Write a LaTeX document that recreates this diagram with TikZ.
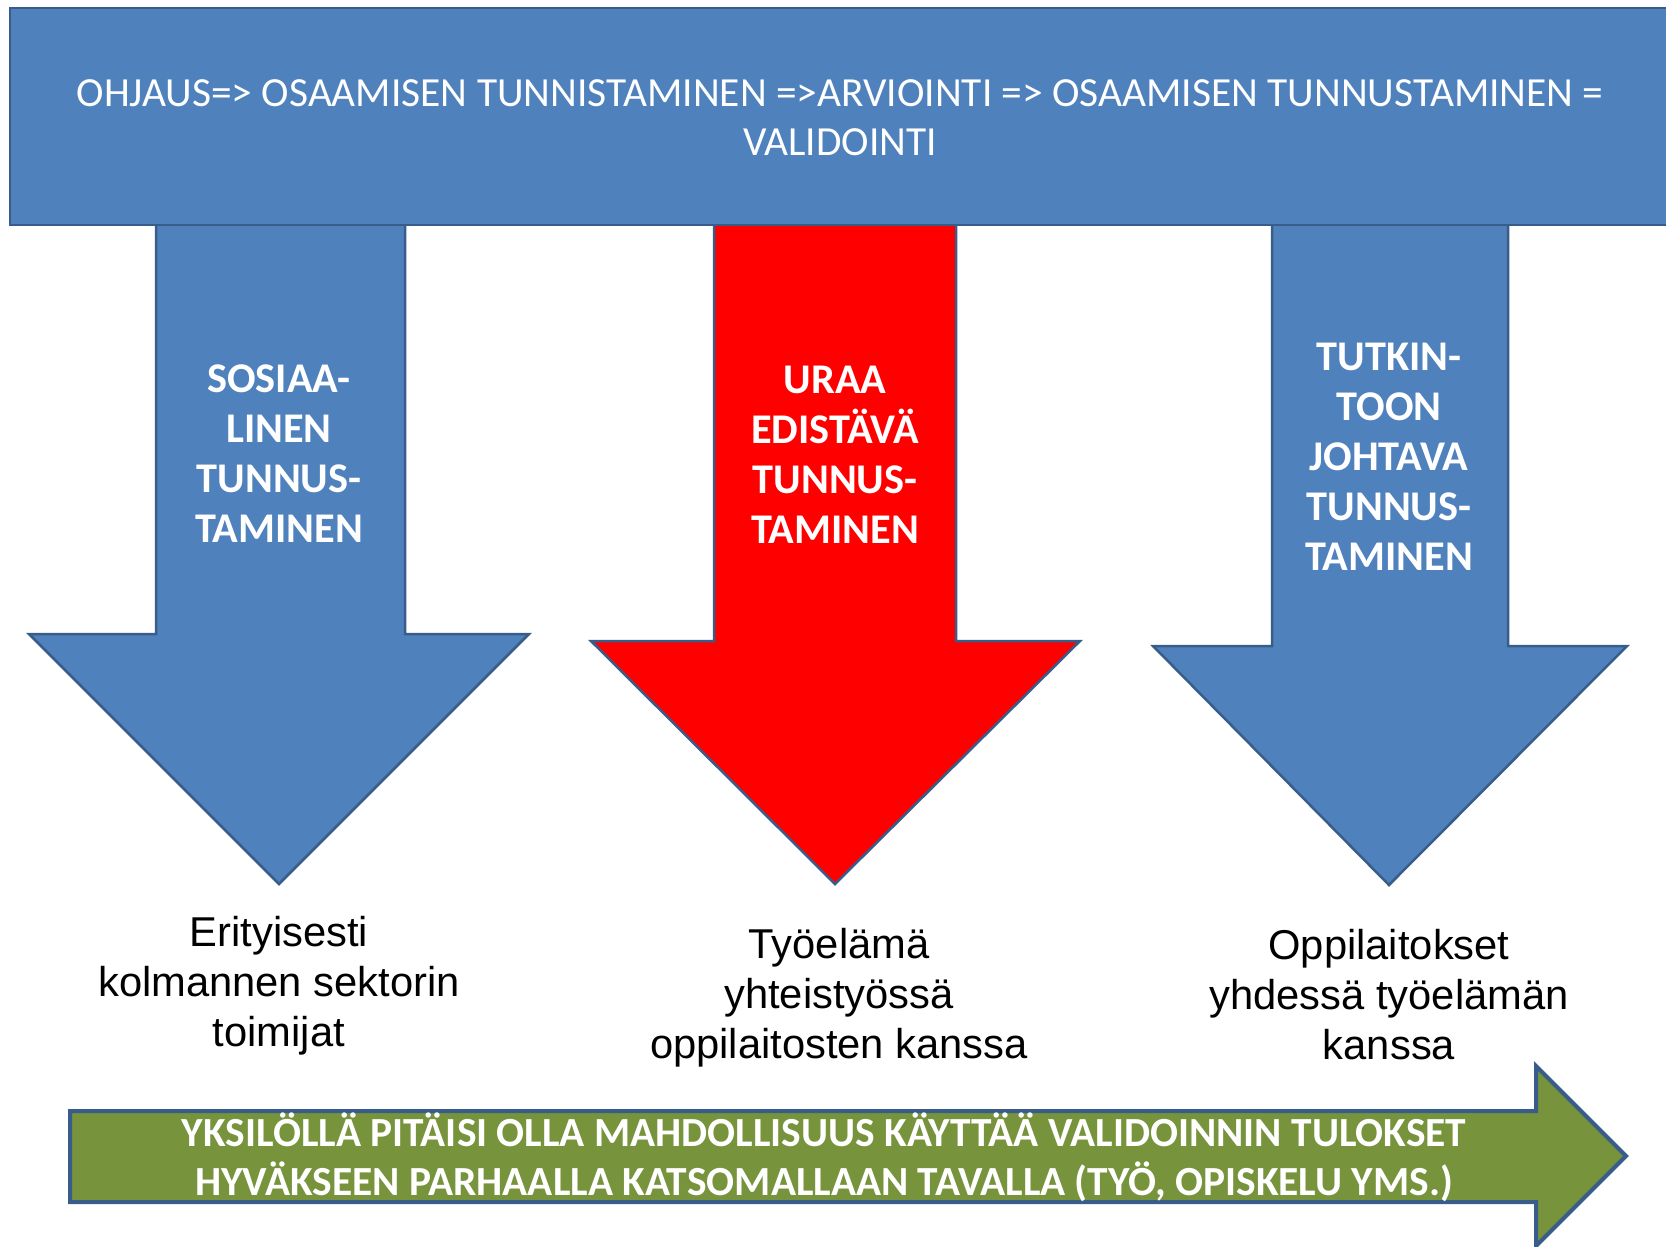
\documentclass[tikz,border=0pt]{standalone}
\usepackage{fontspec}
\setmainfont{Carlito}
\newfontfamily\arialf{Liberation Sans}
\definecolor{bfill}{HTML}{4F81BD}
\definecolor{bline}{HTML}{385D8A}
\definecolor{gfill}{HTML}{77933C}
\definecolor{rfill}{HTML}{FF0000}
\begin{document}
\begin{tikzpicture}[x=1pt,y=-1pt,
  blockshape/.style={draw=bline,line width=2.5pt,line join=miter},
  bannertext/.style={text=white,align=center,font=\fontsize{41.4}{49}\selectfont},
  arrowtext/.style={text=white,align=center,font=\fontsize{42.3}{50}\selectfont\bfseries},
  bodytext/.style={text=black,align=center,font=\arialf\fontsize{41.7}{50}\selectfont},
  greentext/.style={text=white,align=center,font=\fontsize{41.4}{49}\selectfont\bfseries}]
\useasboundingbox (0,0) rectangle (1666,1247);
\clip (0,0) rectangle (1666,1247);
% arrows (shafts start under banner)
\draw[blockshape,fill=bfill] (156,215) -- (405,215) -- (405,634) -- (529,634) -- (279,884) -- (29,634) -- (156,634) -- cycle;
\draw[blockshape,fill=rfill] (714,215) -- (956,215) -- (956,641) -- (1080,641) -- (835,884) -- (591,641) -- (714,641) -- cycle;
\draw[blockshape,fill=bfill] (1272,215) -- (1508,215) -- (1508,646) -- (1627,646) -- (1389,885) -- (1153,646) -- (1272,646) -- cycle;
% banner
\draw[blockshape,fill=bfill] (10,8) rectangle (1690,225);
\node[bannertext] (banner) at (840,118) {OHJAUS=> OSAAMISEN TUNNISTAMINEN =>ARVIOINTI => OSAAMISEN TUNNUSTAMINEN =\\VALIDOINTI};
% arrow labels
\node[arrowtext] (l1) at (279,454) {SOSIAA-\\LINEN\\TUNNUS-\\TAMINEN};
\node[arrowtext] (l2) at (835,455) {URAA\\EDISTÄVÄ\\TUNNUS-\\TAMINEN};
\node[arrowtext] (l3) at (1389,457) {TUTKIN-\\TOON\\JOHTAVA\\TUNNUS-\\TAMINEN};
% body texts
\node[bodytext] (b1) at (279,986) {Erityisesti\\kolmannen sektorin\\toimijat};
\node[bodytext] (b2) at (839,998) {Työelämä\\yhteistyössä\\oppilaitosten kanssa};
\node[bodytext] (b3) at (1389,995) {Oppilaitokset\\yhdessä työelämän\\kanssa};
% green arrow
\draw[draw=bline,line width=4pt,fill=gfill,line join=miter] (70,1111) -- (1536,1111) -- (1536,1066) -- (1626,1156) -- (1536,1246) -- (1536,1202) -- (70,1202) -- cycle;
\node[greentext] (g) at (824,1157) {YKSILÖLLÄ PITÄISI OLLA MAHDOLLISUUS KÄYTTÄÄ VALIDOINNIN TULOKSET\\HYVÄKSEEN PARHAALLA KATSOMALLAAN TAVALLA (TYÖ, OPISKELU YMS.)};
\end{tikzpicture}
\end{document}
